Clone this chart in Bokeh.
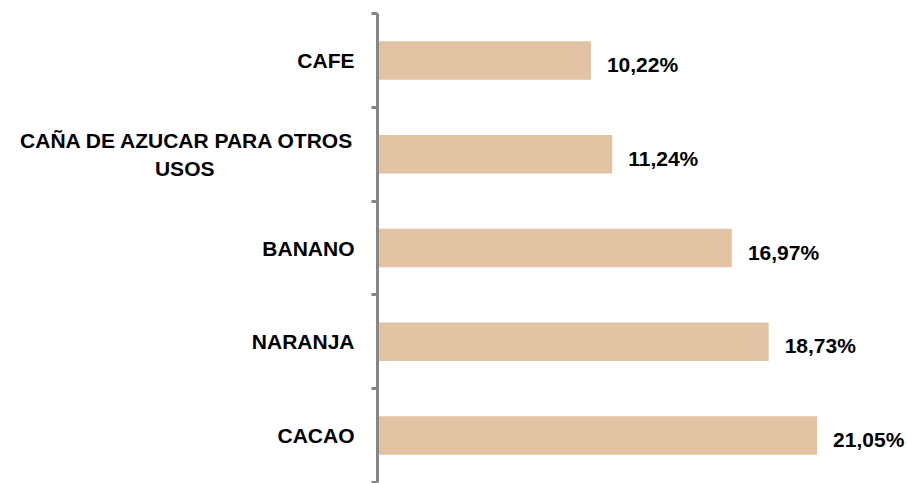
from bokeh.plotting import figure
from bokeh.models import ColumnDataSource, Range1d, FixedTicker
from bokeh.embed import file_html
from bokeh.resources import INLINE
from bokeh.core.properties import value

# data (bottom to top)
categories = ["CACAO", "NARANJA", "BANANO", "CAÑA DE AZUCAR PARA OTROS\nUSOS", "CAFE"]
values = [21.05, 18.73, 16.97, 11.24, 10.22]
labels = [f"{v:.2f}".replace(".", ",") + "%" for v in values]

positions = [i + 0.5 for i in range(len(categories))]
boundaries = [float(i) for i in range(len(categories) + 1)]


def center_lines(text):
    # pad short second lines with no-break spaces so the lines look centred
    lines = text.split("\n")
    if len(lines) == 1:
        return text
    out = [lines[0]]
    for ln in lines[1:]:
        out.append(ln + "\u00a0" * 24)
    return "\n".join(out)


src = ColumnDataSource(dict(y=positions, v=values, lab=labels))

p = figure(width=907, height=483, output_backend="svg", toolbar_location=None,
           x_range=Range1d(0, 25.38), y_range=Range1d(0, len(categories)),
           x_axis_location=None, min_border_left=377, min_border_right=0,
           min_border_top=13, min_border_bottom=1)
p.outline_line_color = None
p.xgrid.visible = False
p.ygrid.visible = False

p.hbar(y="y", left=0, right="v", height=0.41, source=src,
       fill_color="#E2C4A5", line_color=None)
p.text(x="v", y="y", text="lab", source=src, x_offset=16, y_offset=4,
       text_font=value("Liberation Sans"), text_font_style="bold",
       text_font_size="21px", text_baseline="middle", text_align="left",
       text_color="#000000")

ax = p.yaxis[0]
ax.ticker = FixedTicker(ticks=positions, minor_ticks=boundaries)
ax.major_label_overrides = {pos: center_lines(c) for pos, c in zip(positions, categories)}
ax.major_tick_line_color = None
ax.minor_tick_line_color = "#868686"
ax.minor_tick_line_width = 3
ax.minor_tick_out = 6
ax.minor_tick_in = 0
ax.axis_line_color = "#868686"
ax.axis_line_width = 3
ax.major_label_standoff = 17
ax.major_label_text_font = "Liberation Sans"
ax.major_label_text_font_style = "bold"
ax.major_label_text_font_size = "21px"
ax.major_label_text_color = "#000000"

open("out.html", "w").write(file_html(p, INLINE))
